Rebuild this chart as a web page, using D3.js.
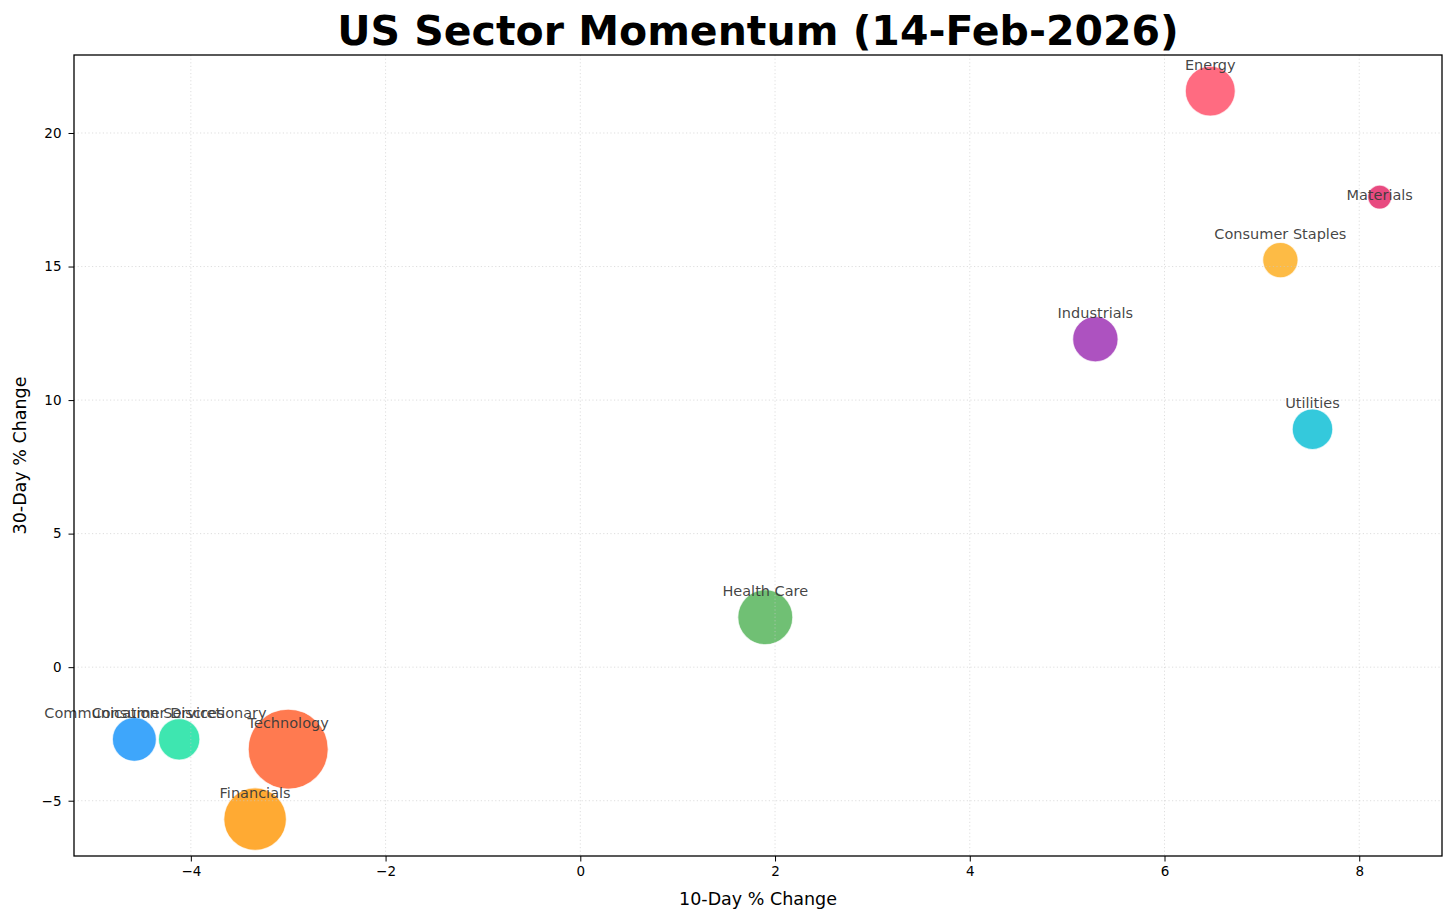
<!DOCTYPE html>
<html>
<head>
<meta charset="utf-8">
<script src="https://cdn.jsdelivr.net/npm/d3@7"></script>
<style>
  html, body { margin: 0; padding: 0; background: #fff; }
  svg { display: block; font-family: "DejaVu Sans", sans-serif; }
</style>
</head>
<body>
<svg id="chart" width="1456" height="921"></svg>
<script>
// ---- Data ----
const sectors = ["Communication Services", "Consumer Discretionary", "Technology", "Financials",
  "Health Care", "Industrials", "Utilities", "Consumer Staples", "Materials", "Energy"];
const change10d = [-4.58, -4.12, -3.00, -3.34, 1.90, 5.29, 7.52, 7.19, 8.21, 6.47];
const change30d = [-2.70, -2.70, -3.07, -5.69, 1.87, 12.28, 8.91, 15.24, 17.60, 21.57];
const bubbleSize = [484, 430, 1600, 980, 756, 515, 412, 313, 144, 625];
const colors = ["#3ea6fb", "#3ee6b0", "#ff7a50", "#ffaa33", "#70c074", "#ad52c0", "#34c9dc", "#fdbb45", "#e84a80", "#ff6b81"];
const xTicks = [-4, -2, 0, 2, 4, 6, 8];
const yTicks = [-5, 0, 5, 10, 15, 20];
const titleText = "US Sector Momentum (14-Feb-2026)";
const xLabel = "10-Day % Change";
const yLabel = "30-Day % Change";

// ---- Layout ----
const svg = d3.select("#chart");
const L = 74, R = 1442, T = 55, B = 856;
const x = d3.scaleLinear().domain([-5.2, 8.85]).range([L, R]);
const y = d3.scaleLinear().domain([-7.07, 22.92]).range([B, T]);
const r = d3.scaleSqrt().domain([0, 1600]).range([0, 40]);
const fmt = d => d3.format("d")(d).replace("-", "\u2212");

svg.append("defs").append("clipPath").attr("id", "clip")
  .append("rect").attr("x", L).attr("y", T).attr("width", R - L).attr("height", B - T);

const data = sectors.map((s, i) => ({ name: s, x: change10d[i], y: change30d[i], s: bubbleSize[i], c: colors[i] }));

// bubbles
const plot = svg.append("g").attr("clip-path", "url(#clip)");
plot.selectAll("circle").data(data).join("circle")
  .attr("cx", d => x(d.x)).attr("cy", d => y(d.y)).attr("r", d => r(d.s))
  .attr("fill", d => d.c).attr("fill-opacity", 1)
  .attr("stroke", "#fff").attr("stroke-opacity", 0.7).attr("stroke-width", 1.2);

// grid (drawn above bubbles)
const grid = svg.append("g").attr("clip-path", "url(#clip)");
grid.selectAll("line.gx").data(xTicks).join("line")
  .attr("x1", d => x(d)).attr("x2", d => x(d)).attr("y1", T).attr("y2", B)
  .attr("stroke", "#c8c8c8").attr("stroke-opacity", 0.6).attr("stroke-width", 1).attr("stroke-dasharray", "1.2,2.4");
grid.selectAll("line.gy").data(yTicks).join("line")
  .attr("y1", d => y(d)).attr("y2", d => y(d)).attr("x1", L).attr("x2", R)
  .attr("stroke", "#c8c8c8").attr("stroke-opacity", 0.6).attr("stroke-width", 1).attr("stroke-dasharray", "1.2,2.4");

// labels
svg.append("g").selectAll("text").data(data).join("text")
  .attr("x", d => x(d.x))
  .attr("y", d => d.name === "Materials" ? y(d.y) + 3 : y(d.y) - 21)
  .attr("text-anchor", "middle")
  .attr("font-size", 14.5).attr("fill", "#3a3a3a").attr("fill-opacity", 0.95)
  .text(d => d.name);

// axes
const xAxis = svg.append("g").attr("transform", `translate(0,${B})`)
  .call(d3.axisBottom(x).tickValues(xTicks).tickFormat(fmt).tickSize(5.5).tickPadding(5));
const yAxis = svg.append("g").attr("transform", `translate(${L},0)`)
  .call(d3.axisLeft(y).tickValues(yTicks).tickFormat(fmt).tickSize(5.5).tickPadding(7));
[xAxis, yAxis].forEach(a => {
  a.select(".domain").remove();
  a.selectAll(".tick line").attr("stroke", "#000").attr("stroke-width", 1);
  a.selectAll(".tick text").attr("font-size", 13.5).attr("fill", "#000").attr("font-family", "DejaVu Sans, sans-serif");
});

// frame
svg.append("rect").attr("x", L).attr("y", T).attr("width", R - L).attr("height", B - T)
  .attr("fill", "none").attr("stroke", "#000").attr("stroke-width", 1.3);

// titles
svg.append("text").attr("x", (L + R) / 2).attr("y", 45).attr("text-anchor", "middle")
  .attr("font-size", 41).attr("font-weight", "bold").attr("fill", "#000").text(titleText);
svg.append("text").attr("x", (L + R) / 2).attr("y", 905).attr("text-anchor", "middle")
  .attr("font-size", 17.5).attr("fill", "#000").text(xLabel);
svg.append("text").attr("transform", `translate(26,${(T + B) / 2}) rotate(-90)`).attr("text-anchor", "middle")
  .attr("font-size", 17.5).attr("fill", "#000").text(yLabel);
</script>
</body>
</html>
